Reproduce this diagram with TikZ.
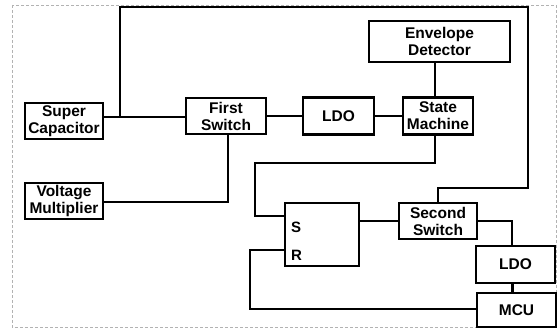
\documentclass[tikz,border=0pt]{standalone}
\usepackage{fontspec}
\setmainfont{Liberation Sans}
\begin{document}
\begin{tikzpicture}[x=1pt,y=-1pt,
  blk/.style={draw=black,line width=2.3pt,fill=white,align=center,inner sep=0pt,
    font=\bfseries\fontsize{15.5}{17}\selectfont},
  lab/.style={font=\bfseries\fontsize{15}{16}\selectfont,anchor=west,inner sep=0pt},
  wire/.style={line width=2.3pt,line join=miter}]
\useasboundingbox (0,0) rectangle (560,331);
\draw[gray!60,densely dashed,line width=0.6pt] (12,5) rectangle (556,327);
\node[blk,minimum width=78pt,minimum height=36pt] (sc) at (64,121) {Super\\Capacitor};
\node[blk,minimum width=80pt,minimum height=36pt] (fs) at (226,116) {First\\Switch};
\node[blk,minimum width=71pt,minimum height=37pt] (ldoa) at (338.5,116) {LDO};
\node[blk,minimum width=70pt,minimum height=37pt] (sm) at (438,116) {State\\Machine};
\node[blk,minimum width=141pt,minimum height=41pt] (ed) at (439.5,41.5) {Envelope\\Detector};
\node[blk,minimum width=74pt,minimum height=63pt] (sr) at (322,234.5) {};
\node[blk,minimum width=78pt,minimum height=36pt] (ss) at (438,221) {Second\\Switch};
\node[blk,minimum width=79pt,minimum height=37pt] (ldob) at (515.5,264.5) {LDO};
\node[blk,minimum width=79pt,minimum height=34pt] (mcu) at (516.5,310) {MCU};
\node[blk,minimum width=78pt,minimum height=36pt] (vm) at (64,201) {Voltage\\Multiplier};
\node[lab] (slab) at (291,227) {S};
\node[lab] (rlab) at (291,255) {R};
\coordinate (j1) at (120,117);
\coordinate (tl) at (120,7);
\coordinate (tr) at (528,7);
\coordinate (mr) at (528,188);
\coordinate (sml) at (255,163);
\draw[wire] ([yshift=4pt]sc.east) -- ([yshift=4pt]sc.east -| fs.west);
\draw[wire] (j1) -- (tl) -- (tr) -- (mr) -| (ss.north);
\draw[wire] (fs.east) -- (fs.east -| ldoa.west);
\draw[wire] (ldoa.east) -- (ldoa.east -| sm.west);
\draw[wire] ([xshift=-3pt]sm.north) -- ([xshift=-3pt]sm.north |- ed.south);
\draw[wire] ([xshift=-3pt]sm.south) |- (sml) |- ([yshift=18.5pt]sr.west);
\draw[wire] ([yshift=-15.5pt]sr.west) -- ++(-34,0) |- ([yshift=1pt]mcu.west);
\draw[wire] (ss.west) -- (ss.west -| sr.east);
\draw[wire] (ss.east) -| ([xshift=-3.5pt]ldob.north);
\draw[wire] ([xshift=-3pt]ldob.south) -- ([xshift=-3pt]ldob.south |- mcu.north);
\draw[wire] ([yshift=-1pt]vm.east) -| ([xshift=2pt]fs.south);
\end{tikzpicture}
\end{document}
